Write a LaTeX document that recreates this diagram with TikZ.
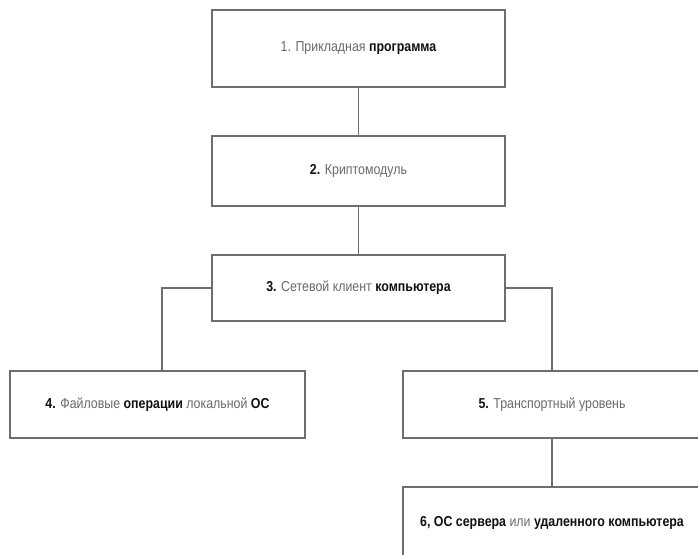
\documentclass[tikz,border=0pt]{standalone}
\usepackage{fontspec}
\setmainfont{Liberation Sans}[FakeStretch=0.86]
\usetikzlibrary{calc}
\definecolor{linegray}{HTML}{6E6E6E}
\definecolor{txtgray}{HTML}{6A6A6A}
\definecolor{txtdark}{HTML}{111111}
\newcommand{\lt}[1]{{\color{txtgray}#1}}
\newcommand{\bd}[1]{{\bfseries\color{txtdark}#1}}
\tikzset{
  blockbox/.style={draw=linegray, line width=1.3pt, fill=white, inner sep=0pt,
    font=\fontsize{14.4}{17}\selectfont, text=txtdark},
  link/.style={draw=linegray, line width=1.1pt}
}
\begin{document}
\begin{tikzpicture}[x=1pt,y=-1pt]
\useasboundingbox[fill=white] (0,0) rectangle (698,554);
\node[blockbox, minimum width=293pt, minimum height=77pt] (b1) at (358.5,48.5)
  {\lt{1. Прикладная} \bd{программа}};
\node[blockbox, minimum width=293pt, minimum height=70pt] (b2) at (358.5,171)
  {\bd{2.} \lt{Криптомодуль}};
\node[blockbox, minimum width=293pt, minimum height=66pt] (b3) at (358.5,288)
  {\bd{3.} \lt{Сетевой клиент} \bd{компьютера}};
\node[blockbox, minimum width=295pt, minimum height=67pt] (b4) at (157.5,404.5)
  {\bd{4.} \lt{Файловые} \bd{операции} \lt{локальной} \bd{ОС}};
\node[blockbox, minimum width=298pt, minimum height=67pt] (b5) at (552,404.5)
  {\bd{5.} \lt{Транспортный уровень}};
\node[blockbox, minimum width=298pt, minimum height=72pt] (b6) at (552,523)
  {\bd{6, ОС сервера} \lt{или} \bd{удаленного компьютера}};
\draw[link] (b1.south) -- (b2.north);
\draw[link] (b2.south) -- (b3.north);
\draw[link] (b3.west) -| ([xshift=4.5pt]b4.north);
\draw[link] (b3.east) -| (b5.north);
\draw[link] (b5.south) -- (b6.north);
\end{tikzpicture}
\end{document}
